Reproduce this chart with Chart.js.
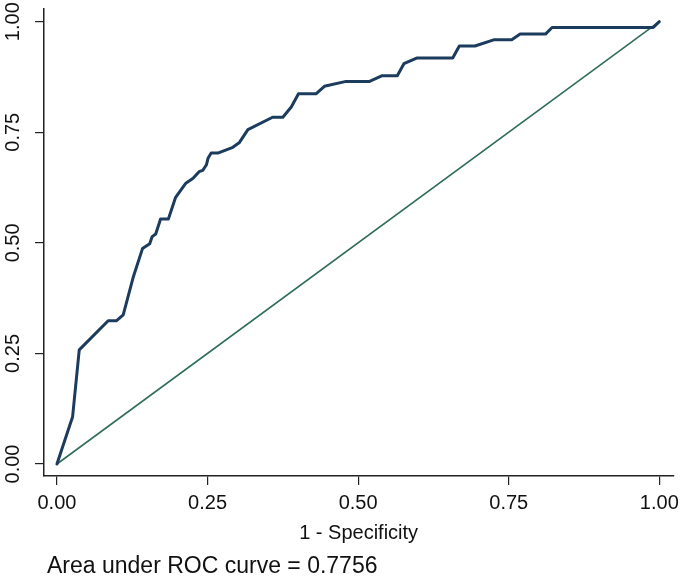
<!DOCTYPE html>
<html>
<head>
<meta charset="utf-8">
<script src="https://cdn.jsdelivr.net/npm/chart.js@4.4.1/dist/chart.umd.min.js"></script>
<style>
  html, body { margin: 0; padding: 0; background: #ffffff; }
  #wrap { width: 685px; height: 580px; }
</style>
</head>
<body>
<div id="wrap"><canvas id="c" width="685" height="580"></canvas></div>
<script>
// ROC curve points (1 - specificity, sensitivity)
const fpr = [0, 0.026, 0.037, 0.085, 0.099, 0.110, 0.127, 0.142, 0.154, 0.158, 0.164, 0.172, 0.185, 0.197, 0.214, 0.226, 0.236, 0.242, 0.248, 0.251, 0.256, 0.267, 0.292, 0.303, 0.317, 0.358, 0.375, 0.389, 0.401, 0.430, 0.444, 0.480, 0.519, 0.540, 0.565, 0.576, 0.598, 0.657, 0.668, 0.694, 0.725, 0.755, 0.769, 0.811, 0.822, 0.990, 1.0];
const tpr = [0, 0.107, 0.258, 0.324, 0.324, 0.337, 0.424, 0.487, 0.498, 0.514, 0.520, 0.554, 0.554, 0.603, 0.635, 0.646, 0.661, 0.664, 0.676, 0.692, 0.703, 0.703, 0.716, 0.727, 0.756, 0.784, 0.784, 0.807, 0.837, 0.837, 0.854, 0.865, 0.865, 0.878, 0.878, 0.905, 0.918, 0.918, 0.945, 0.945, 0.959, 0.959, 0.972, 0.972, 0.987, 0.987, 1.0];
// Reference (chance) line
const refX = [0, 1];
const refY = [0, 1];
// Axis ticks
const tickValues = [0, 0.25, 0.5, 0.75, 1];
const tickLabels = ['0.00', '0.25', '0.50', '0.75', '1.00'];
const xTitle = '1 - Specificity';
const aucValue = 0.7756;
const noteText = 'Area under ROC curve = ' + aucValue.toFixed(4);

const rocPoints = fpr.map((x, i) => ({ x: x, y: tpr[i] }));
const refPoints = refX.map((x, i) => ({ x: x, y: refY[i] }));

const FONT = "'Liberation Sans', Arial, sans-serif";

const yLabelPlugin = {
  id: 'yLabels',
  afterDraw(chart) {
    const ctx = chart.ctx;
    const ys = chart.scales.y;
    ctx.save();
    ctx.fillStyle = '#111';
    ctx.font = '20px ' + FONT;
    ctx.textAlign = 'center';
    ctx.textBaseline = 'middle';
    tickValues.forEach((v, i) => {
      const py = ys.getPixelForValue(v);
      ctx.save();
      ctx.translate(13, py);
      ctx.rotate(-Math.PI / 2);
      ctx.fillText(tickLabels[i], 0, 0);
      ctx.restore();
    });
    // note
    ctx.font = '23px ' + FONT;
    ctx.textAlign = 'left';
    ctx.textBaseline = 'middle';
    ctx.fillText(noteText, 47, 567);
    ctx.restore();
  }
};

new Chart(document.getElementById('c'), {
  type: 'scatter',
  data: {
    datasets: [
      {
        label: 'ROC',
        data: rocPoints,
        showLine: true,
        borderColor: '#1c3c5e',
        borderWidth: 3,
        pointRadius: 0,
        tension: 0,
        borderJoinStyle: 'round',
        borderCapStyle: 'round',
        order: 1
      },
      {
        label: 'Reference',
        data: refPoints,
        showLine: true,
        borderColor: '#2f6e5a',
        borderWidth: 1.6,
        pointRadius: 0,
        tension: 0,
        order: 2
      }
    ]
  },
  options: {
    responsive: false,
    devicePixelRatio: 1,
    animation: false,
    layout: { padding: { left: 0, right: 10, top: 9, bottom: 35 } },
    plugins: {
      legend: { display: false },
      tooltip: { enabled: false },
      title: { display: false }
    },
    scales: {
      x: {
        type: 'linear',
        min: -0.0215,
        max: 1.0232,
        afterBuildTicks: (s) => { s.ticks = tickValues.map(v => ({ value: v })); },
        afterFit: (s) => { s.height = 69; },
        ticks: {
          padding: 6,
          color: '#111',
          font: { family: FONT, size: 20 },
          maxRotation: 0,
          minRotation: 0,
          callback: (v) => { const i = tickValues.indexOf(v); return i >= 0 ? tickLabels[i] : ''; }
        },
        grid: {
          display: true,
          drawOnChartArea: false,
          drawTicks: true,
          tickLength: 9,
          color: '#222',
          lineWidth: 1.2
        },
        border: { display: true, color: '#222', width: 1.5 },
        title: {
          display: true,
          text: xTitle,
          color: '#111',
          font: { family: FONT, size: 20 },
          padding: { top: 0, bottom: 0 }
        }
      },
      y: {
        type: 'linear',
        min: -0.0271,
        max: 1.0287,
        afterBuildTicks: (s) => { s.ticks = tickValues.map(v => ({ value: v })); },
        afterFit: (s) => { s.width = 44; },
        ticks: { display: false },
        grid: {
          display: true,
          drawOnChartArea: false,
          drawTicks: true,
          tickLength: 9,
          color: '#222',
          lineWidth: 1.2
        },
        border: { display: true, color: '#222', width: 1.5 }
      }
    }
  },
  plugins: [yLabelPlugin]
});
</script>
</body>
</html>
